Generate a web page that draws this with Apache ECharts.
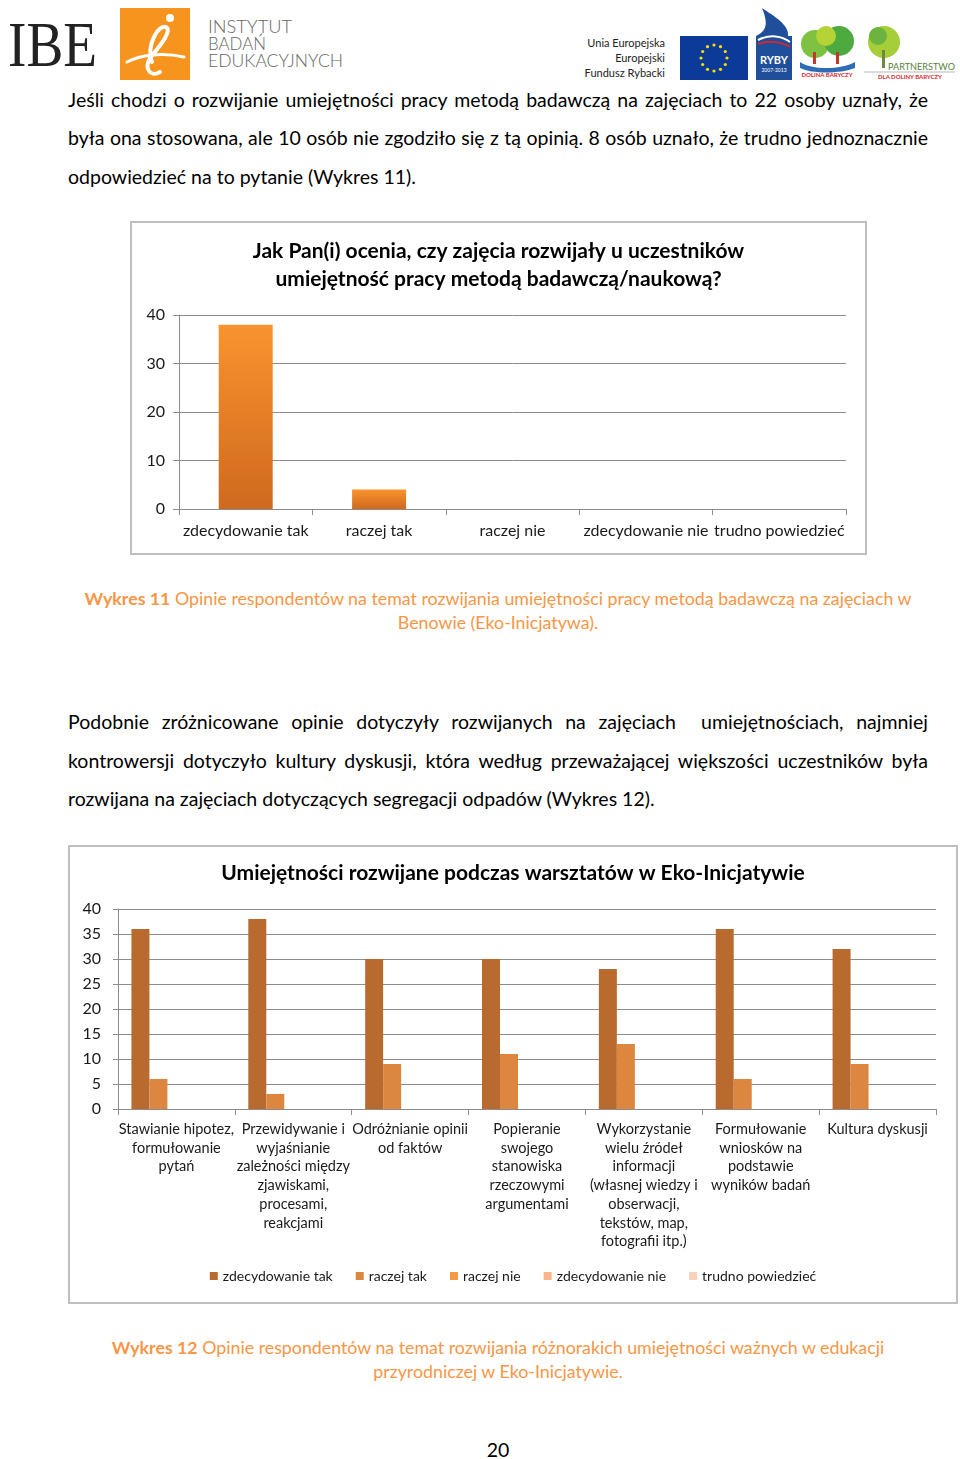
<!DOCTYPE html>
<html><head><meta charset="utf-8">
<script src="https://cdn.jsdelivr.net/npm/echarts@6/dist/echarts.min.js"></script>
<style>
html,body{margin:0;padding:0;background:#fff;}
body{width:960px;height:1459px;position:relative;overflow:hidden;font-family:Lato,"Noto Sans",sans-serif;color:#000;}
.ln{position:absolute;left:68px;width:860px;font-size:19.5px;line-height:24px;white-space:nowrap;}
.j{text-align:justify;text-align-last:justify;}
.cap{position:absolute;left:36px;width:924px;text-align:center;color:#F79646;font-size:17.8px;line-height:24px;white-space:nowrap;}
.cap b{font-weight:bold;}
#c1{position:absolute;left:130px;top:221px;width:737px;height:334px;}
#c2{position:absolute;left:68px;top:845px;width:890px;height:459px;}
#pg{position:absolute;left:448px;width:100px;top:1438px;text-align:center;font-size:19.5px;line-height:24px;}
</style></head>
<body>
<svg style="position:absolute;left:0;top:0" width="960" height="86">
 <text x="8" y="66" font-family="Liberation Serif" font-size="64" textLength="89" lengthAdjust="spacingAndGlyphs" fill="#222">IBE</text>
 <rect x="120" y="8" width="70" height="72" fill="#F7941D"/>
 <path d="M152 62 C 146 46, 158 24, 166 27 C 173 31, 158 48, 150 58 C 144 68, 150 78, 160 72" stroke="#fff" stroke-width="4" fill="none" stroke-linecap="round"/>
 <circle cx="170" cy="18" r="4" fill="#fff"/>
 <path d="M127 62 C 140 55, 162 52, 184 57" stroke="#fff" stroke-width="3" fill="none" stroke-linecap="round"/>
 <g font-family="Lato" font-size="17" fill="#666" font-weight="300">
  <text x="208" y="33" textLength="84" lengthAdjust="spacingAndGlyphs">INSTYTUT</text>
  <text x="208" y="50" textLength="58" lengthAdjust="spacingAndGlyphs">BADAŃ</text>
  <text x="208" y="67" textLength="135" lengthAdjust="spacingAndGlyphs">EDUKACYJNYCH</text>
 </g>
 <g font-family="Lato" font-size="11" fill="#222" text-anchor="end">
  <text x="665" y="47">Unia Europejska</text>
  <text x="665" y="62">Europejski</text>
  <text x="665" y="77">Fundusz Rybacki</text>
 </g>
 <rect x="680" y="36" width="68" height="44" fill="#0C3A99"/>
 <g fill="#FFDD00">
  <circle cx="714" cy="45" r="1.6"/><circle cx="720.5" cy="46.7" r="1.6"/><circle cx="725.3" cy="51.5" r="1.6"/>
  <circle cx="727" cy="58" r="1.6"/><circle cx="725.3" cy="64.5" r="1.6"/><circle cx="720.5" cy="69.3" r="1.6"/>
  <circle cx="714" cy="71" r="1.6"/><circle cx="707.5" cy="69.3" r="1.6"/><circle cx="702.7" cy="64.5" r="1.6"/>
  <circle cx="701" cy="58" r="1.6"/><circle cx="702.7" cy="51.5" r="1.6"/><circle cx="707.5" cy="46.7" r="1.6"/>
 </g>
 <path d="M762 8 C 770 14, 790 24, 788 36 L 792 36 L 792 80 L 756 80 L 756 36 C 770 30, 766 18, 762 8 Z" fill="#1F4E9B"/>
 <path d="M758 40 C 770 34, 782 36, 790 42" stroke="#fff" stroke-width="2" fill="none"/>
 <path d="M758 44 C 770 40, 782 42, 790 47" stroke="#D7262E" stroke-width="2" fill="none"/>
 <text x="774" y="64" font-family="Lato" font-size="11" font-weight="bold" fill="#fff" text-anchor="middle">RYBY</text>
 <text x="774" y="72" font-family="Lato" font-size="5" fill="#fff" text-anchor="middle">2007-2013</text>
 <circle cx="815" cy="44" r="14" fill="#7FC241"/>
 <circle cx="839" cy="41" r="15" fill="#4DAA3F"/>
 <circle cx="826" cy="36" r="10" fill="#B5D334"/>
 <rect x="813" y="52" width="3" height="12" fill="#C0392B"/><rect x="836" y="52" width="3" height="12" fill="#C0392B"/>
 <path d="M800 62 C 812 70, 840 70, 855 62 L 855 68 C 840 74, 812 74, 800 68 Z" fill="#2E6DB4"/>
 <text x="827" y="77" font-family="Lato" font-size="6" font-weight="bold" fill="#D7262E" text-anchor="middle">DOLINA BARYCZY</text>
 <circle cx="884" cy="42" r="16" fill="#A6CE39"/>
 <circle cx="878" cy="36" r="9" fill="#6DB33F"/>
 <rect x="882" y="50" width="3" height="18" fill="#6E8B3D"/>
 <text x="888" y="70" font-family="Lato" font-size="10" fill="#5A7F3A" textLength="67" lengthAdjust="spacingAndGlyphs">PARTNERSTWO</text>
 <line x1="864" y1="72" x2="955" y2="72" stroke="#999" stroke-width="0.7"/>
 <text x="910" y="79" font-family="Lato" font-size="6" font-weight="bold" fill="#D7262E" text-anchor="middle">DLA DOLINY BARYCZY</text>
</svg>

<div class="ln j" style="top:88px">Jeśli chodzi o rozwijanie umiejętności pracy metodą badawczą na zajęciach to 22 osoby uznały, że</div>
<div class="ln j" style="top:126px">była ona stosowana, ale 10 osób nie zgodziło się z tą opinią. 8 osób uznało, że trudno jednoznacznie</div>
<div class="ln" style="top:165px">odpowiedzieć na to pytanie (Wykres 11).</div>

<div id="c1"></div>

<div class="cap" style="top:586px"><b>Wykres 11</b> Opinie respondentów na temat rozwijania umiejętności pracy metodą badawczą na zajęciach w<br>Benowie (Eko-Inicjatywa).</div>

<div class="ln j" style="top:710px">Podobnie zróżnicowane opinie dotyczyły rozwijanych na zajęciach &nbsp;umiejętnościach, najmniej</div>
<div class="ln j" style="top:749px">kontrowersji dotyczyło kultury dyskusji, która według przeważającej większości uczestników była</div>
<div class="ln" style="top:787px">rozwijana na zajęciach dotyczących segregacji odpadów (Wykres 12).</div>

<div id="c2"></div>

<div class="cap" style="top:1335px"><b>Wykres 12</b> Opinie respondentów na temat rozwijania różnorakich umiejętności ważnych w edukacji<br>przyrodniczej w Eko-Inicjatywie.</div>

<div id="pg">20</div>

<script>
// ---- Chart 1 data ----
const q1Title = 'Jak Pan(i) ocenia, czy zajęcia rozwijały u uczestników\numiejętność pracy metodą badawczą/naukową?';
const q1Categories = ['zdecydowanie tak', 'raczej tak', 'raczej nie', 'zdecydowanie nie', 'trudno powiedzieć'];
const q1Values = [38, 4, 0, 0, 0];
const q1Ticks = [0, 10, 20, 30, 40];

// ---- Chart 2 data ----
const q2Title = 'Umiejętności rozwijane podczas warsztatów w Eko-Inicjatywie';
const q2Categories = [
  'Stawianie hipotez,\nformułowanie\npytań',
  'Przewidywanie i\nwyjaśnianie\nzależności między\nzjawiskami,\nprocesami,\nreakcjami',
  'Odróżnianie opinii\nod faktów',
  'Popieranie\nswojego\nstanowiska\nrzeczowymi\nargumentami',
  'Wykorzystanie\nwielu źródeł\ninformacji\n(własnej wiedzy i\nobserwacji,\ntekstów, map,\nfotografii itp.)',
  'Formułowanie\nwniosków na\npodstawie\nwyników badań',
  'Kultura dyskusji'
];
const q2SeriesNames = ['zdecydowanie tak', 'raczej tak', 'raczej nie', 'zdecydowanie nie', 'trudno powiedzieć'];
const q2ZdecydowanieTak = [36, 38, 30, 30, 28, 36, 32];
const q2RaczejTak = [6, 3, 9, 11, 13, 6, 9];
const q2RaczejNie = [0, 0, 0, 0, 0, 0, 0];
const q2ZdecydowanieNie = [0, 0, 0, 0, 0, 0, 0];
const q2TrudnoPowiedziec = [0, 0, 0, 0, 0, 0, 0];
const q2Ticks = [0, 5, 10, 15, 20, 25, 30, 35, 40];

const FONT = 'Lato, "Noto Sans", sans-serif';
const GRID = '#8C8C8C';
const LABEL = '#1a1a1a';

const c1 = echarts.init(document.getElementById('c1'), null, {renderer: 'canvas'});
c1.setOption({
  animation: false,
  textStyle: {fontFamily: FONT},
  graphic: [{type: 'rect', silent: true, shape: {x: 1, y: 1, width: 735, height: 332},
    style: {fill: 'none', stroke: '#BFBFBF', lineWidth: 2}}],
  title: {text: q1Title, left: 'center', top: 11,
    textStyle: {fontFamily: FONT, fontSize: 21, fontWeight: 'bold', lineHeight: 28, color: '#000'}},
  grid: {left: 49, right: 21, top: 94, bottom: 46},
  xAxis: {type: 'category', data: q1Categories,
    axisLine: {lineStyle: {color: GRID}},
    axisTick: {show: true, length: 6, lineStyle: {color: GRID}},
    axisLabel: {interval: 0, fontSize: 16, color: LABEL, margin: 14, fontFamily: FONT}},
  yAxis: {type: 'value', min: q1Ticks[0], max: q1Ticks[q1Ticks.length - 1], interval: q1Ticks[1] - q1Ticks[0],
    axisLine: {show: true, lineStyle: {color: GRID}},
    axisTick: {show: true, length: 6, lineStyle: {color: GRID}},
    splitLine: {lineStyle: {color: GRID}},
    axisLabel: {fontSize: 16, color: LABEL, margin: 14, fontFamily: FONT}},
  series: [{type: 'bar', data: q1Values, barWidth: 54,
    itemStyle: {color: new echarts.graphic.LinearGradient(0, 0, 0, 1,
      [{offset: 0, color: '#F8942F'}, {offset: 1, color: '#CF691E'}])}}]
});

const q2Colors = ['#B86A2F', '#DC8640', '#F59A43', '#F8B68D', '#FAD1B9'];
const q2Data = [q2ZdecydowanieTak, q2RaczejTak, q2RaczejNie, q2ZdecydowanieNie, q2TrudnoPowiedziec];
const c2 = echarts.init(document.getElementById('c2'), null, {renderer: 'canvas'});
c2.setOption({
  animation: false,
  textStyle: {fontFamily: FONT},
  color: q2Colors,
  graphic: [{type: 'rect', silent: true, shape: {x: 1, y: 1, width: 888, height: 457},
    style: {fill: 'none', stroke: '#BFBFBF', lineWidth: 2}}],
  title: {text: q2Title, left: 'center', top: 9,
    textStyle: {fontFamily: FONT, fontSize: 21, fontWeight: 'bold', lineHeight: 28, color: '#000'}},
  legend: {data: q2SeriesNames, top: 419, left: 'center', icon: 'rect', itemWidth: 8, itemHeight: 8, itemGap: 23,
    textStyle: {fontFamily: FONT, fontSize: 14, color: LABEL}},
  grid: {left: 50, right: 22, top: 64, bottom: 195},
  xAxis: {type: 'category', data: q2Categories,
    axisLine: {lineStyle: {color: GRID}},
    axisTick: {show: true, length: 6, lineStyle: {color: GRID}},
    axisLabel: {interval: 0, fontSize: 14.5, lineHeight: 18.7, color: LABEL, margin: 11, fontFamily: FONT, align: 'center'}},
  yAxis: {type: 'value', min: q2Ticks[0], max: q2Ticks[q2Ticks.length - 1], interval: q2Ticks[1] - q2Ticks[0],
    axisLine: {show: true, lineStyle: {color: GRID}},
    axisTick: {show: true, length: 5, lineStyle: {color: GRID}},
    splitLine: {lineStyle: {color: GRID}},
    axisLabel: {fontSize: 16, color: LABEL, margin: 17, fontFamily: FONT}},
  series: q2SeriesNames.map((n, i) => ({name: n, type: 'bar', data: q2Data[i],
    barGap: '0%', barCategoryGap: '23%'}))
});
</script>
</body></html>
